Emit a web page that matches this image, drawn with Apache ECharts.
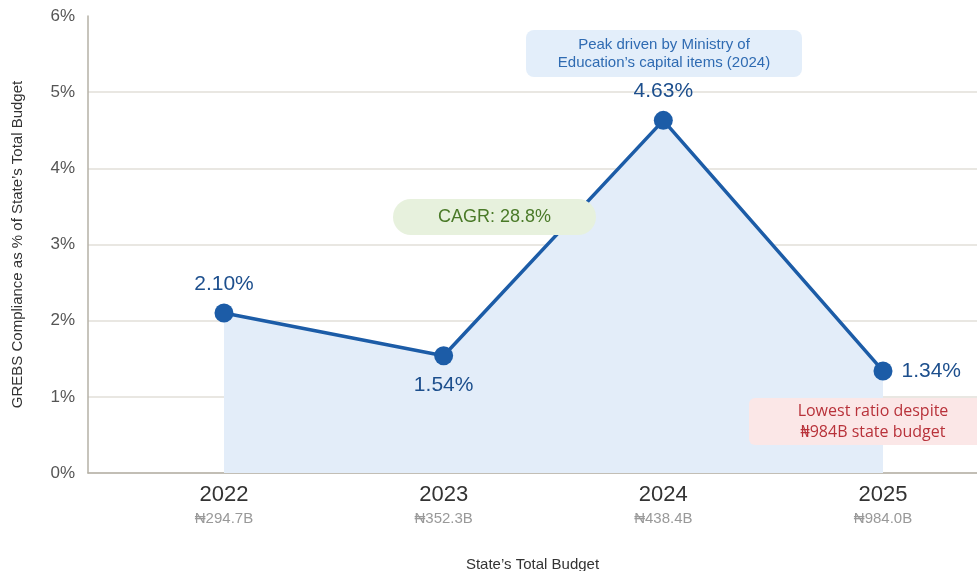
<!DOCTYPE html>
<html>
<head>
<meta charset="utf-8">
<script src="https://cdn.jsdelivr.net/npm/echarts@6/dist/echarts.min.js"></script>
<style>
  html, body { margin: 0; padding: 0; background: #fff; }
  #chart { width: 977px; height: 571px; }
</style>
</head>
<body>
<div id="chart"></div>
<script>
// Data
const years = ["2022", "2023", "2024", "2025"];
const budgets = ["₦294.7B", "₦352.3B", "₦438.4B", "₦984.0B"];
const ratios = [2.10, 1.54, 4.63, 1.34];
const yTicks = [0, 1, 2, 3, 4, 5, 6];
const labelPos = ["top", "bottom", "top", "right"];

const FONT = "'Liberation Sans', Arial, 'Noto Sans', sans-serif";

// rounded box with centred text, for the call-outs
const note = (x, y, w, h, r, fill, text, color, font, lineHeight) => ({
    type: "group",
    children: [
        { type: "rect", z: 100, shape: { x, y, width: w, height: h, r }, style: { fill } },
        {
            type: "text",
            z: 101,
            x: x + w / 2,
            y: y + h / 2,
            style: { text, fill: color, font, align: "center", verticalAlign: "middle", lineHeight }
        }
    ]
});

const chart = echarts.init(document.getElementById("chart"));
chart.setOption({
    backgroundColor: "#fff",
    animation: false,
    grid: { left: 88, right: 0, top: 16, bottom: 98, outerBoundsMode: "none" },
    xAxis: {
        type: "value",
        min: -0.619,
        max: 3.428,
        name: "State’s Total Budget",
        nameLocation: "middle",
        nameGap: 84,
        nameTextStyle: { color: "#333", fontSize: 15, fontFamily: FONT },
        axisLine: { show: true, onZero: false, lineStyle: { color: "#b5b1a6", width: 1.5 } },
        axisTick: { show: false },
        splitLine: { show: false },
        axisLabel: {
            customValues: years.map((y, i) => i),
            margin: 9,
            formatter: v => `{y|${years[v]}}\n{b|${budgets[v]}}`,
            rich: {
                y: { fontSize: 22, color: "#333", fontFamily: FONT, lineHeight: 25 },
                b: { fontSize: 15, color: "#999", fontFamily: FONT, lineHeight: 24 }
            }
        }
    },
    yAxis: {
        type: "value",
        min: yTicks[0],
        max: yTicks[yTicks.length - 1],
        interval: 1,
        name: "GREBS Compliance as % of State’s Total Budget",
        nameLocation: "middle",
        nameGap: 63,
        nameTextStyle: { color: "#333", fontSize: 15, fontFamily: FONT },
        axisLine: { show: true, onZero: false, lineStyle: { color: "#b5b1a6", width: 1.5 } },
        axisTick: { show: false },
        axisLabel: { formatter: "{value}%", color: "#555", fontSize: 17, fontFamily: FONT, margin: 13 },
        splitLine: { show: true, showMaxLine: false, lineStyle: { color: "#e2dfd8", width: 1.5 } }
    },
    series: [{
        type: "line",
        data: ratios.map((v, i) => ({
            value: [i, v],
            label: { position: labelPos[i] }
        })),
        symbol: "circle",
        symbolSize: 19,
        lineStyle: { color: "#1c5ca7", width: 3.5 },
        itemStyle: { color: "#1c5ca7" },
        areaStyle: { color: "#e3edf9", opacity: 1 },
        label: {
            show: true,
            formatter: p => p.value[1].toFixed(2) + "%",
            color: "#1d4f8d",
            fontSize: 21,
            fontFamily: FONT,
            distance: 9
        },
        z: 3
    }],
    graphic: [
        note(526, 30, 276, 47, 8, "#e3eefa",
            "Peak driven by Ministry of\nEducation’s capital items (2024)",
            "#2f6bb2", "15px " + FONT, 18),
        note(393, 199, 203, 36, 18, "#e7f1dd",
            "CAGR: 28.8%", "#4a7a28", "18px " + FONT, 20),
        note(749, 398, 248, 47, 6, "#fbe7e7",
            "Lowest ratio despite\n₦984B state budget",
            "#b8323a", "16px 'Open Sans', 'Noto Sans', sans-serif", 21)
    ]
});
</script>
</body>
</html>
